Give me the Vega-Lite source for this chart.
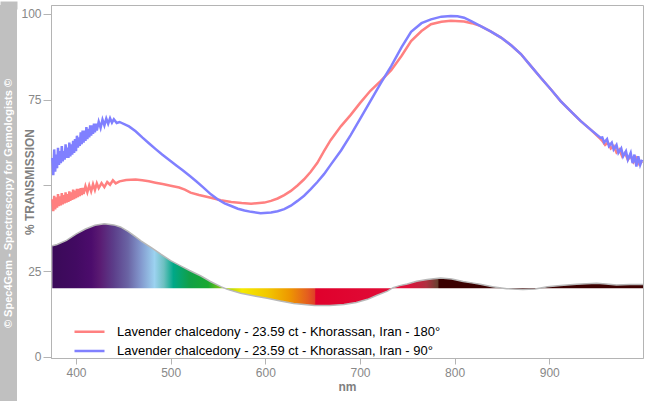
{
  "$schema": "https://vega.github.io/schema/vega-lite/v6.json",
  "padding": {"top": 4, "left": 0, "right": 0, "bottom": 0},
  "spacing": 3,
  "background": "white",
  "config": {
    "view": {"stroke": "#b4b4b4"},
    "axis": {
      "grid": false,
      "domainColor": "#b4b4b4",
      "tickColor": "#b4b4b4",
      "labelColor": "#888888",
      "labelFont": "Liberation Sans",
      "labelFontSize": 12,
      "titleColor": "#808080",
      "titleFont": "Liberation Sans",
      "titleFontSize": 12,
      "titleFontWeight": "bold"
    }
  },
  "datasets": {
    "strip": [{"t": "© Spec4Gem - Spectroscopy for Gemologists ©"}],
    "spec": [
      {"nm":375,"T":32.4},{"nm":380,"T":32.8},{"nm":390,"T":34},{"nm":400,"T":35.8},{"nm":410,"T":37.3},{"nm":420,"T":38.4},{"nm":430,"T":38.8},{"nm":440,"T":38.5},{"nm":447,"T":37.9},{"nm":455,"T":36.6},{"nm":462,"T":35.2},{"nm":469,"T":33.8},{"nm":480,"T":31.8},{"nm":490,"T":29.9},{"nm":500,"T":28.1},{"nm":511,"T":26.5},{"nm":520,"T":25.2},{"nm":532,"T":23.6},{"nm":542,"T":22},{"nm":553,"T":20.5},{"nm":560,"T":19.7},{"nm":574,"T":18.6},{"nm":590,"T":17.7},{"nm":602,"T":17.1},{"nm":616,"T":16.3},{"nm":630,"T":15.6},{"nm":652,"T":15.0},{"nm":668,"T":15.0},{"nm":683,"T":15.3},{"nm":696,"T":15.9},{"nm":708,"T":16.8},{"nm":718,"T":18},{"nm":729,"T":19.2},{"nm":735,"T":20.2},{"nm":742,"T":20.8},{"nm":750,"T":21.3},{"nm":760,"T":22.1},{"nm":771,"T":22.6},{"nm":785,"T":23},{"nm":797,"T":22.7},{"nm":809,"T":22.0},{"nm":818,"T":21.6},{"nm":827,"T":21.2},{"nm":840,"T":20.5},{"nm":855,"T":19.9},{"nm":872,"T":19.7},{"nm":885,"T":19.8},{"nm":898,"T":20.5},{"nm":912,"T":20.8},{"nm":929,"T":21.2},{"nm":950,"T":21.5},{"nm":960,"T":21.3},{"nm":971,"T":21.0},{"nm":985,"T":21.1},{"nm":999,"T":21.1}
    ],
    "red": [
      {"nm":375,"T":46},{"nm":376,"T":42.5},{"nm":377,"T":47},{"nm":378,"T":43},{"nm":379,"T":46.5},{"nm":380,"T":43.5},{"nm":381,"T":47.5},{"nm":382,"T":44},{"nm":383,"T":46.8},{"nm":384,"T":44.2},{"nm":385,"T":47.8},{"nm":386,"T":44.5},{"nm":387,"T":47.2},{"nm":388,"T":44.8},{"nm":389,"T":48},{"nm":390,"T":45},{"nm":391,"T":47.5},{"nm":392,"T":45.2},{"nm":393,"T":48.3},{"nm":394,"T":45.5},{"nm":395,"T":48},{"nm":396,"T":45.8},{"nm":397,"T":48.8},{"nm":398,"T":46},{"nm":399,"T":48.5},{"nm":400,"T":46.3},{"nm":401,"T":49},{"nm":402,"T":46.6},{"nm":403,"T":49},{"nm":404,"T":46.9},{"nm":405,"T":49.2},{"nm":406,"T":47.2},{"nm":407,"T":49.3},{"nm":408,"T":47.5},{"nm":410,"T":49.8},{"nm":412,"T":48},{"nm":414,"T":50},{"nm":416,"T":48.3},{"nm":418,"T":50.4},{"nm":420,"T":48.7},{"nm":422,"T":50.6},{"nm":424,"T":49.2},{"nm":427,"T":50.7},{"nm":430,"T":49.5},{"nm":433,"T":51},{"nm":436,"T":50.2},{"nm":439,"T":51.5},{"nm":442,"T":50.6},{"nm":446,"T":51.2},{"nm":453,"T":51.6},{"nm":463,"T":51.7},{"nm":470,"T":51.5},{"nm":477,"T":51.2},{"nm":484,"T":50.8},{"nm":491.5,"T":50.4},{"nm":500,"T":49.9},{"nm":509,"T":49.4},{"nm":515,"T":48.8},{"nm":521,"T":47.9},{"nm":530,"T":47.2},{"nm":542.5,"T":46.4},{"nm":553,"T":45.7},{"nm":564,"T":45.2},{"nm":575,"T":44.9},{"nm":585,"T":44.7},{"nm":599,"T":45},{"nm":606,"T":45.5},{"nm":613,"T":46.2},{"nm":620,"T":47.2},{"nm":627,"T":48.4},{"nm":634,"T":50},{"nm":641,"T":51.8},{"nm":648,"T":54},{"nm":655,"T":56.6},{"nm":662,"T":60},{"nm":669,"T":63.2},{"nm":680,"T":67.3},{"nm":690,"T":70.5},{"nm":700,"T":74},{"nm":711,"T":77.6},{"nm":722,"T":80.5},{"nm":733,"T":83.6},{"nm":744,"T":87.8},{"nm":754,"T":92.1},{"nm":765,"T":95},{"nm":775,"T":97},{"nm":786,"T":97.7},{"nm":796,"T":98},{"nm":810,"T":97.8},{"nm":818,"T":97.3},{"nm":827,"T":96.5},{"nm":838,"T":94.9},{"nm":849,"T":93.1},{"nm":860,"T":90.8},{"nm":870,"T":88.3},{"nm":880,"T":85},{"nm":891,"T":81.4},{"nm":902,"T":77.9},{"nm":912,"T":74.6},{"nm":922,"T":71.8},{"nm":933,"T":68.8},{"nm":944,"T":66.2},{"nm":954,"T":63.6},{"nm":956,"T":63},{"nm":959,"T":61.8},{"nm":962,"T":62.5},{"nm":965,"T":60.8},{"nm":968,"T":61.5},{"nm":971,"T":59.6},{"nm":974,"T":60.5},{"nm":977,"T":58.5},{"nm":980,"T":59.5},{"nm":983,"T":57.5},{"nm":986,"T":58.6},{"nm":989,"T":56.8},{"nm":992,"T":58},{"nm":995,"T":56.2},{"nm":998,"T":57}
    ],
    "blue": [
      {"nm":375,"T":58},{"nm":376,"T":53},{"nm":377,"T":60.5},{"nm":378,"T":54},{"nm":379,"T":59},{"nm":380,"T":55},{"nm":381,"T":61},{"nm":382,"T":56},{"nm":383,"T":60},{"nm":384,"T":56.5},{"nm":385,"T":61.5},{"nm":386,"T":57},{"nm":387,"T":60},{"nm":388,"T":57.5},{"nm":389,"T":62},{"nm":390,"T":58},{"nm":391,"T":61},{"nm":392,"T":58},{"nm":393,"T":62.5},{"nm":394,"T":58.5},{"nm":395,"T":62},{"nm":396,"T":59},{"nm":397,"T":63},{"nm":398,"T":59.5},{"nm":399,"T":63.5},{"nm":400,"T":60},{"nm":401,"T":64.5},{"nm":402,"T":61},{"nm":403,"T":64},{"nm":404,"T":61.5},{"nm":405,"T":65.5},{"nm":406,"T":62},{"nm":407,"T":66},{"nm":408,"T":62.5},{"nm":409,"T":66},{"nm":410,"T":63},{"nm":411,"T":67},{"nm":412,"T":63.5},{"nm":413,"T":66.5},{"nm":414,"T":64},{"nm":415,"T":67.5},{"nm":416,"T":64.5},{"nm":417,"T":67.5},{"nm":418,"T":65},{"nm":419,"T":68},{"nm":420,"T":65.5},{"nm":421,"T":68},{"nm":422,"T":66},{"nm":424,"T":68.6},{"nm":426,"T":66.8},{"nm":428,"T":69.2},{"nm":430,"T":67.5},{"nm":432,"T":69.5},{"nm":434,"T":68},{"nm":436,"T":69.6},{"nm":438,"T":68.3},{"nm":440,"T":69.3},{"nm":443,"T":68.2},{"nm":446,"T":68.5},{"nm":456,"T":67.2},{"nm":463,"T":65.8},{"nm":470,"T":64},{"nm":477,"T":62.3},{"nm":484.5,"T":60.5},{"nm":491,"T":59},{"nm":498.5,"T":57.4},{"nm":506,"T":55.8},{"nm":512.7,"T":54.4},{"nm":520,"T":52.8},{"nm":527,"T":51.2},{"nm":535,"T":49.3},{"nm":542.5,"T":47.4},{"nm":550,"T":45.9},{"nm":557,"T":44.8},{"nm":564,"T":44.0},{"nm":571,"T":43.2},{"nm":578,"T":42.7},{"nm":585,"T":42.3},{"nm":595,"T":41.9},{"nm":606,"T":42.1},{"nm":613,"T":42.5},{"nm":620,"T":43.1},{"nm":627,"T":44.1},{"nm":634,"T":45.5},{"nm":641,"T":47},{"nm":648,"T":48.9},{"nm":655,"T":51},{"nm":662,"T":53.3},{"nm":669,"T":56},{"nm":680,"T":60.2},{"nm":690,"T":64.6},{"nm":700,"T":69.3},{"nm":711,"T":74.6},{"nm":722,"T":79.8},{"nm":733,"T":84.8},{"nm":744,"T":90.3},{"nm":754,"T":94.8},{"nm":765,"T":97.3},{"nm":775,"T":98.4},{"nm":786,"T":99.2},{"nm":796,"T":99.4},{"nm":803,"T":99.3},{"nm":810,"T":98.9},{"nm":818,"T":97.8},{"nm":827,"T":96.5},{"nm":838,"T":94.9},{"nm":849,"T":93.1},{"nm":860,"T":90.8},{"nm":870,"T":88.3},{"nm":880,"T":85},{"nm":891,"T":81.4},{"nm":902,"T":77.9},{"nm":912,"T":74.6},{"nm":922,"T":71.8},{"nm":933,"T":68.8},{"nm":944,"T":66.2},{"nm":954,"T":63.9},{"nm":956,"T":64},{"nm":958,"T":62.5},{"nm":961,"T":63.5},{"nm":963,"T":61.5},{"nm":966,"T":62.5},{"nm":968,"T":60.5},{"nm":971,"T":61.8},{"nm":973,"T":59.5},{"nm":976,"T":60.8},{"nm":978,"T":58.5},{"nm":981,"T":60},{"nm":983,"T":57.5},{"nm":986,"T":59.5},{"nm":988,"T":56.5},{"nm":990,"T":59},{"nm":992,"T":55.5},{"nm":994,"T":58.5},{"nm":996,"T":56},{"nm":998,"T":57.5}
    ]
  },
  "hconcat": [
    {
      "width": 17,
      "height": 397,
      "view": {"fill": "#c0c0c0", "stroke": null},
      "data": {"name": "strip"},
      "mark": {"type": "text", "angle": 270, "color": "#ffffff", "font": "Liberation Sans", "fontSize": 11, "fontWeight": "bold", "baseline": "middle", "align": "center"},
      "encoding": {
        "x": {"field": "t", "type": "nominal", "axis": {"orient": "top", "domain": true, "domainColor": "#c0c0c0", "domainWidth": 8, "domainCap": "butt", "ticks": false, "labels": false, "title": null}},
        "text": {"field": "t"}
      }
    },
    {
      "width": 592,
      "height": 353,
      "layer": [
        {
          "data": {"name": "spec"},
          "mark": {"type": "area", "opacity": 1, "fill": {"gradient": "linear", "x1": 0, "y1": 0, "x2": 1, "y2": 0, "stops": [
            {"offset": 0, "color": "#3a0a58"},
            {"offset": 0.04, "color": "#420a62"},
            {"offset": 0.066, "color": "#4c0c6c"},
            {"offset": 0.08, "color": "#5a1a72"},
            {"offset": 0.104, "color": "#5c3e8a"},
            {"offset": 0.128, "color": "#6a64a4"},
            {"offset": 0.149, "color": "#8296cc"},
            {"offset": 0.173, "color": "#9cd2f0"},
            {"offset": 0.189, "color": "#6cc0c0"},
            {"offset": 0.205, "color": "#00a888"},
            {"offset": 0.232, "color": "#10a048"},
            {"offset": 0.264, "color": "#18a830"},
            {"offset": 0.288, "color": "#90cc10"},
            {"offset": 0.321, "color": "#f5ea00"},
            {"offset": 0.364, "color": "#f2c800"},
            {"offset": 0.401, "color": "#ee9800"},
            {"offset": 0.433, "color": "#e45c20"},
            {"offset": 0.444, "color": "#e04028"},
            {"offset": 0.446, "color": "#e0002c"},
            {"offset": 0.601, "color": "#e0103a"},
            {"offset": 0.633, "color": "#b03040"},
            {"offset": 0.652, "color": "#6a4030"},
            {"offset": 0.655, "color": "#3a0000"},
            {"offset": 1, "color": "#3e0000"}
          ]}},
          "encoding": {
            "x": {"field": "nm", "type": "quantitative", "scale": {"domain": [373.6, 999], "nice": false, "zero": false},
                  "axis": {"values": [400, 500, 600, 700, 800, 900], "title": "nm", "tickSize": 6, "labelPadding": 3, "titlePadding": 3}},
            "y": {"field": "T", "type": "quantitative", "scale": {"domain": [-0.3, 102.6], "nice": false, "zero": false},
                  "axis": {"values": [0, 25, 50, 75, 100], "title": "% TRANSMISSION", "tickSize": 8, "labelPadding": 2, "titlePadding": -16, "labelExpr": "datum.value == 50 ? '' : datum.label"}},
            "y2": {"datum": 20}
          }
        },
        {
          "data": {"name": "spec"},
          "mark": {"type": "line", "stroke": "#b8b8b8", "strokeWidth": 1.5},
          "encoding": {"x": {"field": "nm", "type": "quantitative"}, "y": {"field": "T", "type": "quantitative"}}
        },
        {
          "mark": {"type": "rule", "stroke": "#b8b8b8", "strokeWidth": 1.5},
          "encoding": {"y": {"datum": 20, "type": "quantitative"}}
        },
        {
          "data": {"name": "red"},
          "mark": {"type": "line", "strokeWidth": 2.5},
          "encoding": {
            "x": {"field": "nm", "type": "quantitative"},
            "y": {"field": "T", "type": "quantitative"},
            "color": {"datum": "Lavender chalcedony - 23.59 ct - Khorassan, Iran - 180°", "type": "nominal",
              "scale": {"domain": ["Lavender chalcedony - 23.59 ct - Khorassan, Iran - 180°", "Lavender chalcedony - 23.59 ct - Khorassan, Iran - 90°"], "range": ["#ff8080", "#8080ff"]},
              "legend": {"title": null, "orient": "none", "legendX": 73, "legendY": 319.2, "padding": 0, "symbolType": "stroke", "symbolSize": 900, "symbolStrokeWidth": 2.5, "labelOffset": 11, "labelFont": "Liberation Sans", "labelFontSize": 13, "labelColor": "#000000", "labelLimit": 0, "clipHeight": 15, "rowPadding": 4.3}}
          }
        },
        {
          "data": {"name": "blue"},
          "mark": {"type": "line", "strokeWidth": 2.5},
          "encoding": {
            "x": {"field": "nm", "type": "quantitative"},
            "y": {"field": "T", "type": "quantitative"},
            "color": {"datum": "Lavender chalcedony - 23.59 ct - Khorassan, Iran - 90°", "type": "nominal"}
          }
        }
      ]
    }
  ]
}
